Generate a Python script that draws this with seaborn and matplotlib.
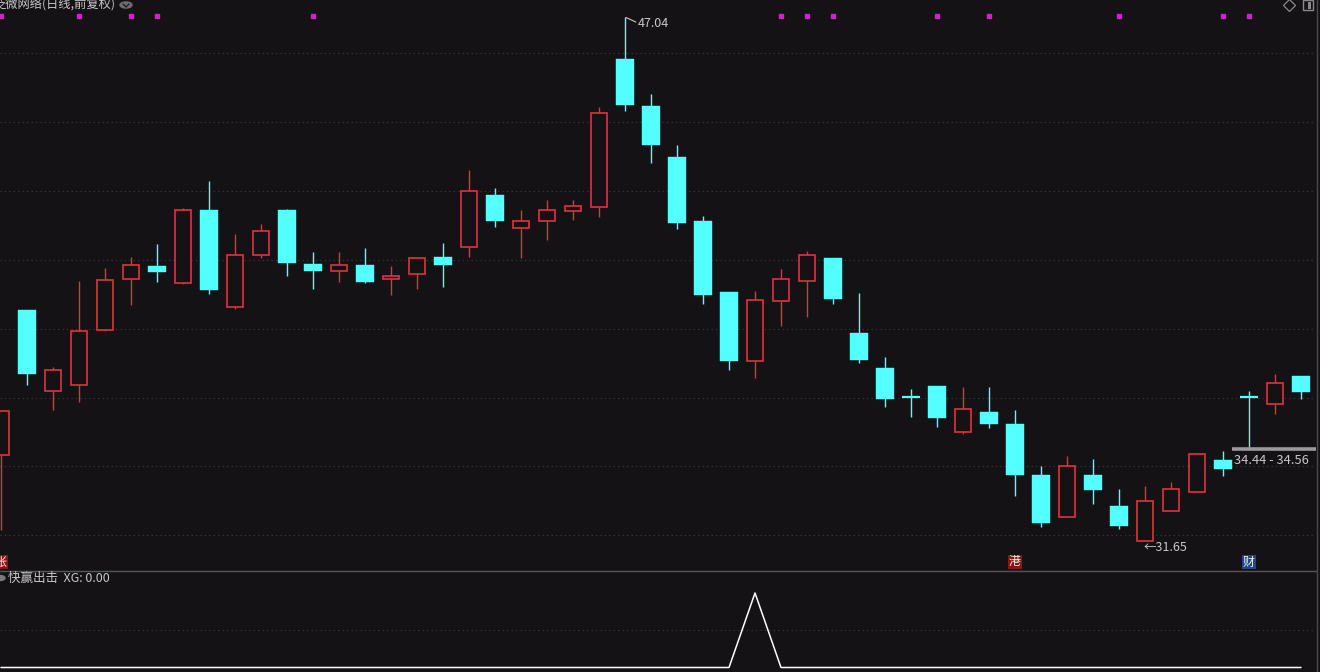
import matplotlib
matplotlib.use("Agg")
import matplotlib.pyplot as plt
import seaborn as sns
import pandas as pd
from matplotlib.lines import Line2D
from matplotlib.patches import Rectangle, Circle

# ---------------- data ----------------
opens = [34.17, 38.43, 36.06, 36.24, 37.85, 39.34, 39.73, 39.24, 41.37, 38.51,
         40.04, 41.37, 39.79, 39.57, 39.76, 39.35, 39.50, 39.99, 40.30, 41.82,
         40.85, 41.04, 41.35, 41.45, 45.81, 44.43, 42.93, 41.05, 38.96, 36.93,
         38.71, 39.30, 39.96, 37.76, 36.73, 35.88, 36.20, 34.86, 35.43, 35.08,
         33.58, 32.36, 33.58, 32.67, 31.65, 32.53, 33.09, 34.02, 35.89, 35.67,
         36.49]
highs = [35.46, 38.43, 36.76, 39.29, 39.67, 39.99, 40.37, 41.42, 42.23, 40.67,
         40.96, 41.40, 40.14, 40.14, 40.25, 39.73, 39.95, 40.40, 42.55, 42.01,
         41.37, 41.67, 41.67, 44.39, 47.04, 44.78, 43.29, 41.20, 38.96, 38.99,
         39.65, 40.17, 39.96, 38.92, 37.06, 36.11, 36.20, 36.18, 36.18, 35.49,
         33.85, 34.14, 34.05, 33.17, 33.25, 33.38, 34.19, 34.29, 36.05, 36.55,
         36.49]
lows = [31.97, 36.24, 35.49, 35.74, 37.83, 38.58, 39.27, 39.21, 38.91, 38.47,
        39.97, 39.44, 39.06, 39.27, 39.24, 38.88, 39.06, 39.12, 40.00, 40.88,
        39.97, 40.50, 41.08, 41.18, 44.29, 42.75, 40.83, 38.62, 36.67, 36.43,
        37.96, 38.24, 38.61, 36.88, 35.59, 35.30, 35.00, 34.79, 34.97, 32.97,
        32.06, 32.36, 32.74, 32.00, 31.65, 32.53, 33.09, 33.55, 34.41, 35.37,
        35.81]
closes = [35.46, 36.56, 36.66, 37.82, 39.32, 39.75, 39.56, 41.37, 39.03, 40.04,
          40.75, 39.82, 39.59, 39.75, 39.27, 39.42, 39.95, 39.77, 41.92, 41.06,
          41.05, 41.37, 41.48, 44.22, 44.47, 43.29, 40.98, 38.87, 36.94, 38.72,
          39.35, 40.04, 38.77, 36.96, 35.83, 35.88, 35.27, 35.51, 35.09, 33.58,
          32.18, 33.84, 33.15, 32.09, 32.81, 33.16, 34.19, 33.77, 35.89, 36.28,
          36.03]
xg_values = [0, 0, 0, 0, 0, 0, 0, 0, 0, 0,
             0, 0, 0, 0, 0, 0, 0, 0, 0, 0,
             0, 0, 0, 0, 0, 0, 0, 0, 0, 1,
             0, 0, 0, 0, 0, 0, 0, 0, 0, 0,
             0, 0, 0, 0, 0, 0, 0, 0, 0, 0,
             0]
signal_days = [0, 3, 5, 6, 12, 30, 31, 32, 36, 38, 43, 47, 48]
grid_levels = [45.99, 43.96, 41.93, 39.90, 37.88, 35.85, 33.85, 31.82]
event_days = [0, 39, 48]
event_texts = ["张", "港", "财"]
event_colors = ["#8c1414", "#8c1414", "#1d4a86"]
title_text = "泛微网络(日线,前复权)"
indicator_text = "快赢出击  XG: 0.00"
high_text = "47.04"
low_text = "←31.65"
gap_text = "34.44 - 34.56"
gap_level = 34.34

# ---------------- style ----------------
BG = "#141215"
CYAN = "#54ffff"
RED = "#e0333f"
TXT = "#c8c8c8"
GRID = "#3e3e3e"

sns.set_style("dark", rc={"axes.facecolor": BG, "figure.facecolor": BG})
plt.rcParams["font.family"] = ["Noto Sans CJK SC", "DejaVu Sans"]

W, H = 1320, 672
fig = plt.figure(figsize=(W / 100, H / 100), dpi=100)
fig.patch.set_facecolor(BG)


def fx(px):
    return px / W


def fy(py):
    return 1 - py / H


PLOT_R = 1316
ax = fig.add_axes([0, fy(570), fx(PLOT_R), 570 / H])
axl = fig.add_axes([0, 0, fx(PLOT_R), 102 / H])
for a in (ax, axl):
    a.set_facecolor(BG)
    for s in a.spines.values():
        s.set_visible(False)
    a.set_xticks([])
    a.set_yticks([])
    a.grid(False)

n = len(opens)
df = pd.DataFrame({"i": range(n), "o": opens, "h": highs, "l": lows, "c": closes, "xg": xg_values})

xmin = -1 / 26
xmax = (PLOT_R - 1) / 26
ax.set_xlim(xmin, xmax)
axl.set_xlim(xmin, xmax)
ax.set_ylim(30.789, 47.549)
axl.set_ylim(-0.0604, 1.3087)

# grid
for g in grid_levels:
    ax.axhline(g, color=GRID, lw=0.8, ls=(0, (1, 3)), zorder=0)
axl.axhline(0.5, color=GRID, lw=0.8, ls=(0, (1, 3)), zorder=0)

# candles
BW = 0.69
for r in df.itertuples():
    top, bot = max(r.o, r.c), min(r.o, r.c)
    if r.c > r.o:
        ax.vlines(r.i, top, r.h, color=RED, lw=1.0, zorder=2)
        ax.vlines(r.i, r.l, bot, color=RED, lw=1.0, zorder=2)
        ax.bar(r.i, top - bot, bottom=bot, width=BW - 0.05, facecolor=BG,
               edgecolor=RED, linewidth=1.2, zorder=3)
    else:
        ax.vlines(r.i, r.l, r.h, color=CYAN, lw=1.0, zorder=2)
        if top - bot < 0.03:
            ax.hlines(r.c, r.i - BW / 2, r.i + BW / 2, color=CYAN, lw=1.6, zorder=3)
        else:
            ax.bar(r.i, top - bot, bottom=bot, width=BW, facecolor=CYAN,
                   edgecolor=CYAN, linewidth=0.3, zorder=3)

# signal dots at top
trans = ax.get_xaxis_transform()
ax.plot(signal_days, [1 - 16 / 570] * len(signal_days), ls="none", marker="s",
        ms=2.6, color="#d21fd2", mec="#d21fd2", transform=trans, clip_on=False, zorder=5)

# high / low labels
ih = int(df["h"].idxmax())
ax.plot([ih + 0.04, ih + 0.42], [df["h"][ih] - 0.005, df["h"][ih] - 0.14], color=TXT, lw=0.8, zorder=5)
ax.text(ih + 0.5, df["h"][ih] - 0.17, high_text, color=TXT, fontsize=9.0, va="center", ha="left")
il = int(df["l"].idxmin())
ax.text(il - 0.05, df["l"][il] - 0.19, low_text, color=TXT, fontsize=9.0, va="center", ha="left")

# gap line and label
ax.hlines(gap_level, (1232 - 1) / 26, xmax, color="#9a9a9a", lw=2.6, zorder=4)
ax.text((1234 - 1) / 26, gap_level - 0.34, gap_text, color=TXT, fontsize=9.3, va="center", ha="left")

# event marks
for d, t, c in zip(event_days, event_texts, event_colors):
    ax.text(d, 8 / 570, t, transform=trans, color="#f0f0f0", fontsize=8.6, ha="center",
            va="center", bbox=dict(boxstyle="square,pad=0.08", fc=c, ec="none"), zorder=6)

# lower indicator
sns.lineplot(data=df, x="i", y="xg", ax=axl, color="white", lw=1.1, zorder=3)
axl.set_xlabel("")
axl.set_ylabel("")
axl.set_xticks([])
axl.set_yticks([])

# separators / borders
fig.add_artist(Line2D([0, fx(PLOT_R)], [fy(570.5), fy(570.5)], color="#555555", lw=1.0,
                      transform=fig.transFigure))
fig.add_artist(Line2D([fx(1316.8), fx(1316.8)], [0, 1], color="#4a4a4a", lw=1.0,
                      transform=fig.transFigure))

# title
fig.text(fx(-7), fy(4.5), title_text, color=TXT, fontsize=8.8, ha="left", va="center")
fig.add_artist(Circle((fx(126), fy(5)), radius=6 / W, transform=fig.transFigure,
                      color="#6e6e6e", zorder=5))
fig.add_artist(Line2D([fx(123), fx(126), fx(129)], [fy(4), fy(7), fy(4)], color="#1e1e1e",
                      lw=1.0, transform=fig.transFigure, zorder=6))

# top right icons
fig.add_artist(Line2D([fx(1289)], [fy(5.3)], marker="D", ms=6.5, mfc="none", mec="#8a8a8a",
                      mew=0.9, transform=fig.transFigure))
fig.add_artist(Rectangle((fx(1302.5), fy(10)), 10 / W, 10 / H, transform=fig.transFigure,
                         fill=False, ec="#8a8a8a", lw=1.0))
fig.add_artist(Rectangle((fx(1308), fy(8.5)), 3 / W, 7 / H, transform=fig.transFigure,
                         fc="#8a8a8a", ec="none"))

# indicator label
fig.add_artist(Circle((fx(0), fy(578)), radius=5 / W, transform=fig.transFigure,
                      color="#7a7a7a", zorder=5))
fig.text(fx(8), fy(578), indicator_text, color=TXT, fontsize=9.0, ha="left", va="center")

fig.savefig("out.png", dpi=100, facecolor=BG)
